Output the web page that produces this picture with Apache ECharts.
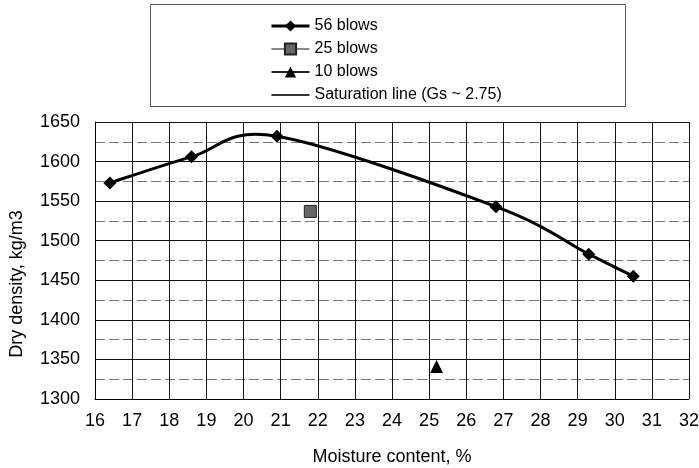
<!DOCTYPE html>
<html>
<head>
<meta charset="utf-8">
<script src="https://cdn.jsdelivr.net/npm/echarts@6/dist/echarts.min.js"></script>
<style>html,body{margin:0;padding:0;background:#fff}#c{width:699px;height:468px}</style>
</head>
<body>
<div id="c"></div>
<script>
const blows56 = [[16.4, 1573], [18.6, 1606], [20.9, 1632], [26.8, 1543], [29.3, 1483], [30.5, 1455]];
const blows25 = [[21.8, 1537]];
const blows10 = [[25.2, 1341]];
const saturation = [];
const seriesNames = ['56 blows', '25 blows', '10 blows', 'Saturation line (Gs ~ 2.75)'];
const xTitle = 'Moisture content, %';
const yTitle = 'Dry density, kg/m3';

const font = 'Liberation Sans, Arial, sans-serif';

// Excel-style (Catmull-Rom) smoothed path through the points, in pixel space
function smoothCurve(params, api) {
  if (params.dataIndex !== 0) return null;
  const pts = blows56.map(d => api.coord(d));
  const n = pts.length;
  let path = 'M' + pts[0][0] + ',' + pts[0][1];
  for (let i = 0; i < n - 1; i++) {
    const p0 = pts[Math.max(i - 1, 0)], p1 = pts[i], p2 = pts[i + 1], p3 = pts[Math.min(i + 2, n - 1)];
    const c1 = [p1[0] + (p2[0] - p0[0]) / 6, p1[1] + (p2[1] - p0[1]) / 6];
    const c2 = [p2[0] - (p3[0] - p1[0]) / 6, p2[1] - (p3[1] - p1[1]) / 6];
    path += 'C' + c1[0] + ',' + c1[1] + ' ' + c2[0] + ',' + c2[1] + ' ' + p2[0] + ',' + p2[1];
  }
  return {
    type: 'path', shape: {pathData: path},
    style: {fill: 'none', stroke: '#000', lineWidth: 3, lineJoin: 'round'}
  };
}

const chart = echarts.init(document.getElementById('c'), null, {renderer: 'canvas'});
chart.setOption({
  animation: false,
  backgroundColor: '#fff',
  graphic: [
    {type: 'rect', shape: {x: 150.5, y: 4.5, width: 475, height: 102},
     style: {fill: 'none', stroke: '#555', lineWidth: 1}},
    {type: 'text', x: 17, y: 284, rotation: Math.PI / 2,
     style: {text: yTitle, font: '18px ' + font, fill: '#000', align: 'center', verticalAlign: 'middle'}}
  ],
  legend: {
    orient: 'vertical', left: 265, top: 13, itemGap: 7, itemWidth: 38, itemHeight: 14,
    textStyle: {fontFamily: font, fontSize: 16, color: '#000'},
    data: [
      {name: seriesNames[0], lineStyle: {opacity: 1, color: '#000', width: 3}},
      {name: seriesNames[1]},
      {name: seriesNames[2]},
      {name: seriesNames[3], itemStyle: {opacity: 0}}
    ]
  },
  grid: {left: 95, right: 10, top: 122, bottom: 69, outerBoundsMode: 'none'},
  xAxis: {
    type: 'value', min: 16, max: 32, interval: 1,
    name: xTitle, nameLocation: 'middle', nameGap: 49,
    nameTextStyle: {fontFamily: font, fontSize: 18, color: '#000'},
    axisLine: {show: true, lineStyle: {color: '#000'}},
    axisTick: {show: false},
    axisLabel: {fontFamily: font, fontSize: 18, color: '#000', margin: 13},
    splitLine: {show: true, lineStyle: {color: '#111', width: 1}}
  },
  yAxis: {
    type: 'value', min: 1300, max: 1650, interval: 50,
    axisLine: {show: true, lineStyle: {color: '#000'}},
    axisTick: {show: false},
    axisLabel: {fontFamily: font, fontSize: 18, color: '#000', margin: 15, formatter: v => String(v)},
    splitLine: {show: true, lineStyle: {color: '#111', width: 1}},
    minorTick: {show: false, splitNumber: 2},
    minorSplitLine: {show: true, lineStyle: {color: '#777', width: 1, type: [10, 4]}}
  },
  series: [
    {name: seriesNames[0], type: 'line', data: blows56, z: 3,
     symbol: 'diamond', symbolSize: 13, color: '#000',
     lineStyle: {color: '#000', width: 3, opacity: 0}, itemStyle: {color: '#000'}},
    {name: seriesNames[0], type: 'custom', data: blows56, renderItem: smoothCurve, silent: true, z: 2},
    {name: seriesNames[1], type: 'line', data: blows25,
     symbol: 'rect', symbolSize: 12, color: '#666',
     lineStyle: {color: '#888', width: 2}, itemStyle: {color: '#666', borderColor: '#222', borderWidth: 1}},
    {name: seriesNames[2], type: 'line', data: blows10,
     symbol: 'triangle', symbolSize: 13, color: '#000',
     lineStyle: {color: '#222', width: 2}, itemStyle: {color: '#000'}},
    {name: seriesNames[3], type: 'line', data: saturation, symbol: 'none', color: '#333',
     lineStyle: {color: '#333', width: 1.5}}
  ]
});
</script>
</body>
</html>
